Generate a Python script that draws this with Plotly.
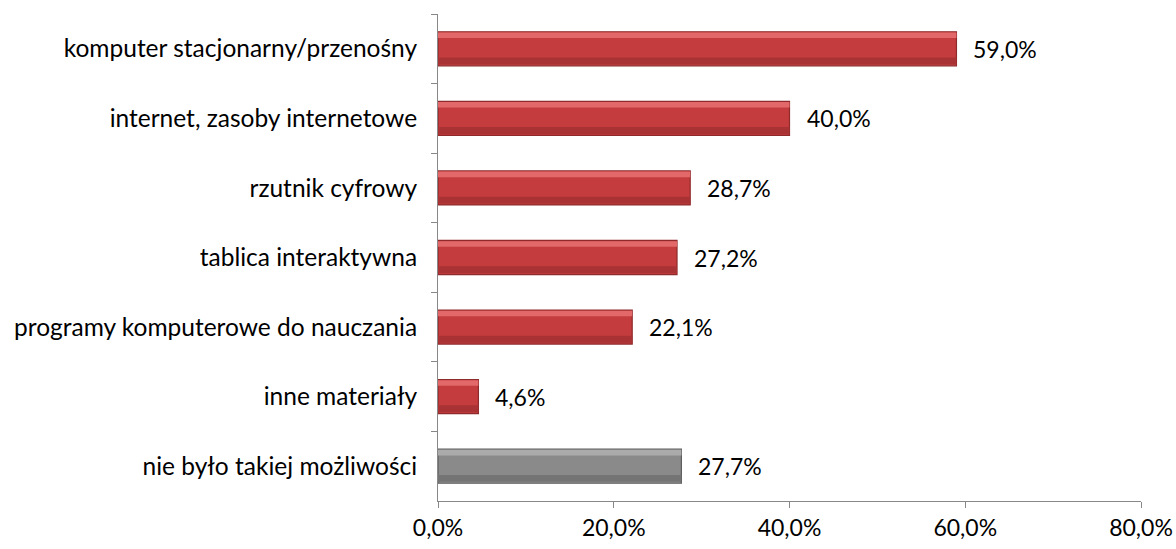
import plotly.graph_objects as go

categories = [
    "komputer stacjonarny/przenośny",
    "internet, zasoby internetowe",
    "rzutnik cyfrowy",
    "tablica interaktywna",
    "programy komputerowe do nauczania",
    "inne materiały",
    "nie było takiej możliwości",
]
values = [59.0, 40.0, 28.7, 27.2, 22.1, 4.6, 27.7]
x_ticks = [0, 20, 40, 60, 80]
x_tick_labels = [f"{t:.1f}%".replace(".", ",") for t in x_ticks]

is_gray = [c.startswith("nie było") for c in categories]
fills = ["#8A8A8A" if g else "#C43C3E" for g in is_gray]
lines = ["#5E5E5E" if g else "#8E2A2B" for g in is_gray]
highlights = ["#ABABAB" if g else "#E26869" for g in is_gray]
shades = ["#747474" if g else "#A83234" for g in is_gray]

FONT = "Lato"
FS = 24.5

fig = go.Figure()
fig.add_trace(go.Bar(
    y=categories, x=values, orientation="h",
    marker=dict(color=fills, line=dict(color=lines, width=1.2)),
    width=0.49, hoverinfo="skip", showlegend=False,
))
# bevel: light top band
fig.add_trace(go.Bar(
    y=categories, x=values, orientation="h",
    marker=dict(color=highlights, line=dict(width=0)),
    width=0.08, offset=-0.235, hoverinfo="skip", showlegend=False,
))
# bevel: darker bottom band
fig.add_trace(go.Bar(
    y=categories, x=values, orientation="h",
    marker=dict(color=shades, line=dict(width=0)),
    width=0.1, offset=0.125, hoverinfo="skip", showlegend=False,
))

for c, v in zip(categories, values):
    fig.add_annotation(
        x=v, y=c, text=f"{v:.1f}%".replace(".", ","), showarrow=False,
        xanchor="left", yanchor="middle", xshift=15,
        font=dict(family=FONT, size=23, color="#000000"),
    )

fig.update_layout(
    width=1176, height=549,
    margin=dict(l=438, r=35, t=14, b=48, autoexpand=False),
    paper_bgcolor="white", plot_bgcolor="white",
    barmode="overlay",
    font=dict(family=FONT, size=FS, color="#000000"),
    xaxis=dict(
        range=[0, 80], tickvals=x_ticks, ticktext=x_tick_labels,
        showgrid=False, zeroline=False, showline=True, linecolor="#888888",
        linewidth=1, ticks="outside", ticklen=6, tickcolor="#888888",
        tickfont=dict(family=FONT, size=23), automargin=False,
    ),
    yaxis=dict(
        autorange="reversed", showgrid=False, zeroline=False, showline=True,
        linecolor="#888888", linewidth=1, ticks="outside", ticklen=6,
        tickcolor="#888888", tickson="boundaries", ticklabelstandoff=15,
        tickfont=dict(family=FONT, size=FS), automargin=False,
    ),
)

fig.write_html(
    "out.html",
    config={"displayModeBar": False},
    post_script="document.body.style.margin='0';document.body.style.overflow='hidden';",
)
